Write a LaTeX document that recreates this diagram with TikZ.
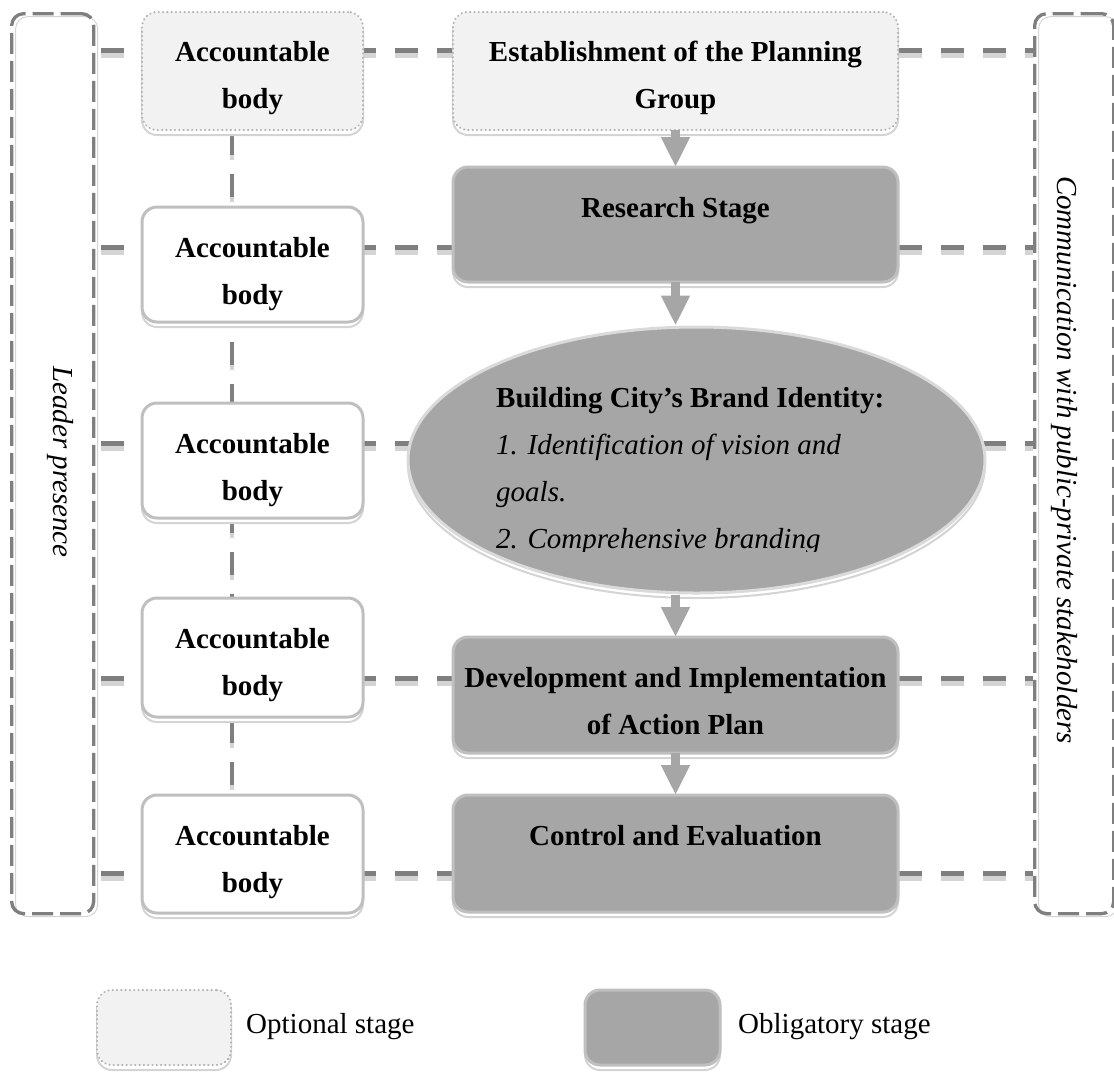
\documentclass[tikz,border=0pt]{standalone}
\usepackage{fontspec}
\setmainfont{Liberation Serif}
\usetikzlibrary{shapes.geometric,arrows.meta,shadows,calc}

\definecolor{rimgray}{HTML}{BFBFBF}
\definecolor{dotgray}{HTML}{B4B4B4}
\definecolor{stagefill}{HTML}{A6A6A6}
\definecolor{optfill}{HTML}{F2F2F2}
\definecolor{dashgray}{HTML}{7F7F7F}
\definecolor{shadegray}{HTML}{D4D4D4}
\definecolor{ellrim}{HTML}{DADADA}

\pgfdeclarelayer{background}
\pgfsetlayers{background,main}

% centred multi-line label whose baseline is the first line
\newcommand\stagetext[2]{\parbox[t]{#1}{\centering #2}}

\tikzset{
  box/.style={rectangle, rounded corners=15pt, line width=3pt, draw=rimgray,
    inner sep=0pt, outer sep=0pt, anchor=north west,
    font=\bfseries\fontsize{29pt}{47pt}\selectfont,
    general shadow={shadow yshift=-5pt, solid, fill=white, draw=shadegray,
      line width=2pt, opacity=1}},
  optional/.style={box, fill=optfill, draw=dotgray,
    dash pattern=on 0.1pt off 4.2pt, line cap=round, line width=2.3pt},
  accountable/.style={box, fill=white},
  obligatory/.style={box, fill=stagefill},
  brandoval/.style={ellipse, fill=stagefill, draw=ellrim, line width=3pt,
    inner sep=0pt, minimum width=577pt, minimum height=266pt,
    general shadow={shadow yshift=-5pt, fill=white, draw=shadegray,
      line width=2pt, opacity=1}},
  sidebar/.style={rectangle, rounded corners=12pt, draw=dashgray,
    line width=3.3pt, dash pattern=on 21pt off 7pt, inner sep=0pt,
    anchor=north west,
    general shadow={shadow xshift=4pt, shadow yshift=-3pt, solid,
      draw=shadegray, line width=1pt, fill=none, opacity=1}},
  sidetext/.style={font=\itshape\fontsize{29pt}{35pt}\selectfont,
    rotate=-90, inner sep=0pt},
  rowline/.style={draw=dashgray, line width=5pt,
    dash pattern=on 23pt off 19pt, dash phase=36pt},
  rowshade/.style={rowline, draw=shadegray, transform canvas={yshift=-5pt}},
  vline/.style={draw=dashgray, line width=4pt,
    dash pattern=on 23pt off 19pt, dash phase=40pt},
  vshade/.style={vline, draw=shadegray, transform canvas={yshift=-5pt}},
  blockarrow/.style={draw=stagefill, line width=9pt,
    -{Triangle[width=27pt,length=30pt]}},
  legendtext/.style={font=\fontsize{29pt}{35pt}\selectfont, inner sep=0pt,
    anchor=base west},
}

\begin{document}
\begin{tikzpicture}[x=1pt,y=-1pt]
\useasboundingbox (0,0) rectangle (1114,1072);

% side frames
\node[sidebar, minimum width=82pt, minimum height=900pt] (leadbar) at (10,12) {};
\node[sidebar, minimum width=79pt, minimum height=900pt] (commbar) at (1033,12) {};
\node[sidetext] (leadtxt) at (60,462) {Leader presence};
\node[sidetext] (commtxt) at (1064,460) {Communication with public-private stakeholders};

% accountable bodies
\node[optional, text height=49pt, text depth=69pt] (acc1) at (142,12)
  {\stagetext{221pt}{Accountable\\body}};
\node[accountable, text height=50pt, text depth=65pt] (acc2) at (142,207)
  {\stagetext{221pt}{Accountable\\body}};
\node[accountable, text height=50pt, text depth=65pt] (acc3) at (142,403)
  {\stagetext{221pt}{Accountable\\body}};
\node[accountable, text height=50pt, text depth=69pt] (acc4) at (142,598)
  {\stagetext{221pt}{Accountable\\body}};
\node[accountable, text height=50pt, text depth=68pt] (acc5) at (142,795)
  {\stagetext{221pt}{Accountable\\body}};

% main stages
\node[optional, text height=49pt, text depth=69pt] (estab) at (453,12)
  {\stagetext{445pt}{Establishment of the Planning\\Group}};
\node[obligatory, text height=50pt, text depth=65pt] (research) at (453,167)
  {\stagetext{445pt}{Research Stage}};
\node[brandoval] (brand) at (696.5,460) {};
\begin{scope}
  \clip (400,370) rectangle (990,551);
  \node[inner sep=0pt, anchor=base west, font=\fontsize{29pt}{47pt}\selectfont]
    (brandtxt) at (496,407)
    {\parbox[t]{480pt}{\raggedright\textbf{Building City’s Brand Identity:}\\
      \itshape 1. Identification of vision and\\goals.\\2. Comprehensive branding}};
\end{scope}
\node[obligatory, text height=50pt, text depth=66pt] (devel) at (453,637)
  {\stagetext{445pt}{Development and Implementation\\of Action Plan}};
\node[obligatory, text height=50pt, text depth=67pt] (control) at (453,795)
  {\stagetext{445pt}{Control and Evaluation}};

% flow arrows
\draw[blockarrow] (estab.south) -- (research.north);
\draw[blockarrow] (research.south) -- (research.south |- brand.north);
\draw[blockarrow] (devel.north |- brand.south) -- (devel.north);
\draw[blockarrow] (devel.south) -- (control.north);

% dashed links behind everything
\coordinate (r1) at (0,50);
\coordinate (r2) at (0,247);
\coordinate (r3) at (0,443);
\coordinate (r4) at (0,678);
\coordinate (r5) at (0,873);
\coordinate (vx) at (232,0);
\begin{pgfonlayer}{background}
  \foreach \i in {1,...,5} {
    \draw[rowshade] (leadbar.east |- r\i) -- (commbar.west |- r\i);
    \draw[rowline] (leadbar.east |- r\i) -- (commbar.west |- r\i);
  }
  \draw[vshade] (vx |- acc1.south) -- (vx |- acc5.north);
  \draw[vline] (vx |- acc1.south) -- (vx |- acc5.north);
\end{pgfonlayer}

% legend
\node[optional, minimum width=134pt, minimum height=75pt] (legopt) at (97,990) {};
\node[legendtext] (legopttxt) at (246,1033) {Optional stage};
\node[obligatory, minimum width=135pt, minimum height=75pt] (legobl) at (585,990) {};
\node[legendtext] (legobltxt) at (738,1033) {Obligatory stage};
\end{tikzpicture}
\end{document}
